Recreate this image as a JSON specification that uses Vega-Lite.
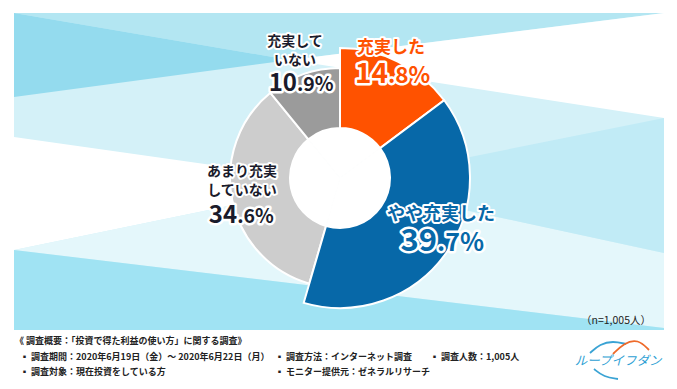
{
  "$schema": "https://vega.github.io/schema/vega-lite/v6.json",
  "width": 674,
  "height": 356,
  "autosize": {"type": "none"},
  "padding": {"left": 3, "top": 0, "right": 0, "bottom": 33},
  "background": "white",
  "config": {"view": {"stroke": null}, "font": "Noto Sans CJK JP", "text": {"font": "Noto Sans CJK JP", "fontWeight": "bold"}},
  "datasets": {
    "box": [
      {"px": 14, "top": 13, "bottom": 330},
      {"px": 664, "top": 13, "bottom": 330}
    ],
    "bg": [
      {"region": "top", "px": 14, "top": 13, "bottom": 13},
      {"region": "top", "px": 290, "top": 13, "bottom": 60},
      {"region": "top", "px": 664, "top": 13, "bottom": 13},
      {"region": "dark", "px": 14, "top": 13, "bottom": 97},
      {"region": "dark", "px": 290, "top": 60, "bottom": 60},
      {"region": "whiteA", "px": 290, "top": 60, "bottom": 60},
      {"region": "whiteA", "px": 664, "top": 13, "bottom": 118},
      {"region": "whiteB", "px": 14, "top": 137, "bottom": 250},
      {"region": "whiteB", "px": 340, "top": 183, "bottom": 183},
      {"region": "pale", "px": 14, "top": 250, "bottom": 250},
      {"region": "pale", "px": 340, "top": 183, "bottom": 289},
      {"region": "pale", "px": 664, "top": 253, "bottom": 328},
      {"region": "mid", "px": 340, "top": 183, "bottom": 183},
      {"region": "mid", "px": 664, "top": 118, "bottom": 253},
      {"region": "deep", "px": 14, "top": 250, "bottom": 330},
      {"region": "deep", "px": 664, "top": 328, "bottom": 330}
    ],
    "donut": [
      {"category": "充実した", "label": "充実した", "share": 0.148, "whole": "14", "frac": ".8%", "rank": 1},
      {"category": "やや充実した", "label": "やや充実した", "share": 0.397, "whole": "39", "frac": ".7%", "rank": 2},
      {"category": "あまり充実していない", "label": "あまり充実\nしていない", "share": 0.346, "whole": "34", "frac": ".6%", "rank": 3},
      {"category": "充実していない", "label": "充実して\nいない", "share": 0.109, "whole": "10", "frac": ".9%", "rank": 4}
    ],
    "notes": [
      {"text": "《 調査概要：「投資で得た利益の使い方」に関する調査》", "px": 15, "py": 341},
      {"text": "▪ 調査期間：2020年6月19日（金）～ 2020年6月22日（月）", "px": 20, "py": 357},
      {"text": "▪ 調査方法：インターネット調査", "px": 275, "py": 357},
      {"text": "▪ 調査人数：1,005人", "px": 430, "py": 357},
      {"text": "▪ 調査対象：現在投資をしている方", "px": 20, "py": 372},
      {"text": "▪ モニター提供元：ゼネラルリサーチ", "px": 275, "py": 372}
    ],
    "sample": [{"text": "（n=1,005人）", "px": 616, "py": 321}],
    "logoText": [{"text": "ループイフダン", "px": 618, "py": 361}],
    "logo": [
      {"arc": "a", "px": 590, "py": 353}, {"arc": "a", "px": 600, "py": 344}, {"arc": "a", "px": 613, "py": 341}, {"arc": "a", "px": 626, "py": 344},
      {"arc": "b", "px": 613, "py": 354}, {"arc": "b", "px": 624, "py": 343}, {"arc": "b", "px": 638, "py": 339}, {"arc": "b", "px": 649, "py": 350},
      {"arc": "c", "px": 594, "py": 369}, {"arc": "c", "px": 604, "py": 377}, {"arc": "c", "px": 618, "py": 379}
    ]
  },
  "layer": [
    {
      "data": {"name": "box"},
      "mark": {"type": "area", "fill": "#d4f1f8"},
      "encoding": {
        "x": {"field": "px", "type": "quantitative", "scale": {"domain": [3, 677], "nice": false, "zero": false}, "axis": null},
        "y": {"field": "top", "type": "quantitative", "stack": null, "scale": {"domain": [0, 356], "reverse": true, "nice": false, "zero": false}, "axis": null},
        "y2": {"field": "bottom"}
      }
    },
    {
      "data": {"name": "bg"},
      "mark": {"type": "area", "interpolate": "linear"},
      "encoding": {
        "x": {"field": "px", "type": "quantitative", "scale": {"domain": [3, 677], "nice": false, "zero": false}, "axis": null},
        "y": {"field": "top", "type": "quantitative", "stack": null, "scale": {"domain": [0, 356], "reverse": true, "nice": false, "zero": false}, "axis": null},
        "y2": {"field": "bottom"},
        "fill": {"field": "region", "type": "nominal", "legend": null,
          "scale": {"domain": ["top", "dark", "whiteA", "whiteB", "pale", "mid", "deep"],
                    "range": ["#b3e6f2", "#94dbee", "#ffffff", "#ffffff", "#e4f7fb", "#c1ebf6", "#a0e3f3"]}}
      }
    },
    {
      "data": {"name": "donut"},
      "encoding": {
        "theta": {"field": "share", "type": "quantitative", "stack": true},
        "order": {"field": "rank", "type": "quantitative"},
        "color": {"field": "category", "type": "nominal", "legend": null,
          "scale": {"domain": ["充実した", "やや充実した", "あまり充実していない", "充実していない"],
                    "range": ["#ff5200", "#0768a8", "#cdcdcd", "#9b9b9b"]}}
      },
      "layer": [
        {"mark": {"type": "arc", "innerRadius": 0, "outerRadius": 51, "stroke": "white", "strokeWidth": 1}, "encoding": {"color": {"value": "white"}}},
        {"mark": {"type": "arc", "innerRadius": 50, "outerRadius": 110, "stroke": "white", "strokeWidth": 2}},
        {"mark": {"type": "arc", "innerRadius": 50, "outerRadius": 130, "stroke": "white", "strokeWidth": 2},
         "encoding": {"opacity": {"condition": {"test": "datum.rank <= 2", "value": 1}, "value": 0}}},

        {"mark": {"type": "text", "radius": 140, "thetaOffset": -0.093, "fontSize": 17, "align": "center", "baseline": "middle", "stroke": "white", "strokeWidth": 4, "strokeJoin": "round"},
         "encoding": {"text": {"condition": {"test": "datum.rank === 1", "field": "label"}, "value": ""}, "color": {"value": "white"}}},
        {"mark": {"type": "text", "radius": 140, "thetaOffset": -0.093, "fontSize": 17, "align": "center", "baseline": "middle"},
         "encoding": {"text": {"condition": {"test": "datum.rank === 1", "field": "label"}, "value": ""}, "color": {"value": "#ff5200"}}},
        {"mark": {"type": "text", "radius": 106.4, "thetaOffset": 0.003, "fontSize": 28, "align": "right", "baseline": "alphabetic", "stroke": "white", "strokeWidth": 5, "strokeJoin": "round"},
         "encoding": {"text": {"condition": {"test": "datum.rank === 1", "field": "whole"}, "value": ""}, "color": {"value": "white"}}},
        {"mark": {"type": "text", "radius": 106.4, "thetaOffset": 0.003, "fontSize": 28, "align": "right", "baseline": "alphabetic"},
         "encoding": {"text": {"condition": {"test": "datum.rank === 1", "field": "whole"}, "value": ""}, "color": {"value": "#ff5200"}}},
        {"mark": {"type": "text", "radius": 106.4, "thetaOffset": 0.003, "fontSize": 22.5, "align": "left", "baseline": "alphabetic", "stroke": "white", "strokeWidth": 5, "strokeJoin": "round"},
         "encoding": {"text": {"condition": {"test": "datum.rank === 1", "field": "frac"}, "value": ""}, "color": {"value": "white"}}},
        {"mark": {"type": "text", "radius": 106.4, "thetaOffset": 0.003, "fontSize": 22.5, "align": "left", "baseline": "alphabetic"},
         "encoding": {"text": {"condition": {"test": "datum.rank === 1", "field": "frac"}, "value": ""}, "color": {"value": "#ff5200"}}},

        {"mark": {"type": "text", "radius": 107.4, "thetaOffset": -0.2595, "fontSize": 18, "align": "center", "baseline": "middle", "stroke": "white", "strokeWidth": 4, "strokeJoin": "round"},
         "encoding": {"text": {"condition": {"test": "datum.rank === 2", "field": "label"}, "value": ""}, "color": {"value": "white"}}},
        {"mark": {"type": "text", "radius": 107.4, "thetaOffset": -0.2595, "fontSize": 18, "align": "center", "baseline": "middle"},
         "encoding": {"text": {"condition": {"test": "datum.rank === 2", "field": "label"}, "value": ""}, "color": {"value": "#0768a8"}}},
        {"mark": {"type": "text", "radius": 121.4, "thetaOffset": 0.0387, "fontSize": 31, "align": "right", "baseline": "alphabetic", "stroke": "white", "strokeWidth": 5, "strokeJoin": "round"},
         "encoding": {"text": {"condition": {"test": "datum.rank === 2", "field": "whole"}, "value": ""}, "color": {"value": "white"}}},
        {"mark": {"type": "text", "radius": 121.4, "thetaOffset": 0.0387, "fontSize": 31, "align": "right", "baseline": "alphabetic"},
         "encoding": {"text": {"condition": {"test": "datum.rank === 2", "field": "whole"}, "value": ""}, "color": {"value": "#0768a8"}}},
        {"mark": {"type": "text", "radius": 121.4, "thetaOffset": 0.0387, "fontSize": 25, "align": "left", "baseline": "alphabetic", "stroke": "white", "strokeWidth": 5, "strokeJoin": "round"},
         "encoding": {"text": {"condition": {"test": "datum.rank === 2", "field": "frac"}, "value": ""}, "color": {"value": "white"}}},
        {"mark": {"type": "text", "radius": 121.4, "thetaOffset": 0.0387, "fontSize": 25, "align": "left", "baseline": "alphabetic"},
         "encoding": {"text": {"condition": {"test": "datum.rank === 2", "field": "frac"}, "value": ""}, "color": {"value": "#0768a8"}}},

        {"mark": {"type": "text", "radius": 98.2, "thetaOffset": 0.259, "fontSize": 14, "lineBreak": "\n", "lineHeight": 19, "align": "center", "baseline": "middle", "stroke": "white", "strokeWidth": 4, "strokeJoin": "round"},
         "encoding": {"text": {"condition": {"test": "datum.rank === 3", "field": "label"}, "value": ""}, "color": {"value": "white"}}},
        {"mark": {"type": "text", "radius": 98.2, "thetaOffset": 0.259, "fontSize": 14, "lineBreak": "\n", "lineHeight": 19, "align": "center", "baseline": "middle"},
         "encoding": {"text": {"condition": {"test": "datum.rank === 3", "field": "label"}, "value": ""}, "color": {"value": "#1a1b2b"}}},
        {"mark": {"type": "text", "radius": 112.4, "thetaOffset": -0.214, "fontSize": 24, "align": "right", "baseline": "alphabetic", "stroke": "white", "strokeWidth": 5, "strokeJoin": "round"},
         "encoding": {"text": {"condition": {"test": "datum.rank === 3", "field": "whole"}, "value": ""}, "color": {"value": "white"}}},
        {"mark": {"type": "text", "radius": 112.4, "thetaOffset": -0.214, "fontSize": 24, "align": "right", "baseline": "alphabetic"},
         "encoding": {"text": {"condition": {"test": "datum.rank === 3", "field": "whole"}, "value": ""}, "color": {"value": "#1a1b2b"}}},
        {"mark": {"type": "text", "radius": 112.4, "thetaOffset": -0.214, "fontSize": 19.5, "align": "left", "baseline": "alphabetic", "stroke": "white", "strokeWidth": 5, "strokeJoin": "round"},
         "encoding": {"text": {"condition": {"test": "datum.rank === 3", "field": "frac"}, "value": ""}, "color": {"value": "white"}}},
        {"mark": {"type": "text", "radius": 112.4, "thetaOffset": -0.214, "fontSize": 19.5, "align": "left", "baseline": "alphabetic"},
         "encoding": {"text": {"condition": {"test": "datum.rank === 3", "field": "frac"}, "value": ""}, "color": {"value": "#1a1b2b"}}},

        {"mark": {"type": "text", "radius": 143.7, "thetaOffset": 0.024, "fontSize": 14, "lineBreak": "\n", "lineHeight": 19, "align": "center", "baseline": "middle", "stroke": "white", "strokeWidth": 4, "strokeJoin": "round"},
         "encoding": {"text": {"condition": {"test": "datum.rank === 4", "field": "label"}, "value": ""}, "color": {"value": "white"}}},
        {"mark": {"type": "text", "radius": 143.7, "thetaOffset": 0.024, "fontSize": 14, "lineBreak": "\n", "lineHeight": 19, "align": "center", "baseline": "middle"},
         "encoding": {"text": {"condition": {"test": "datum.rank === 4", "field": "label"}, "value": ""}, "color": {"value": "#1a1b2b"}}},
        {"mark": {"type": "text", "radius": 97.0, "thetaOffset": -0.1166, "fontSize": 24, "align": "right", "baseline": "alphabetic", "stroke": "white", "strokeWidth": 5, "strokeJoin": "round"},
         "encoding": {"text": {"condition": {"test": "datum.rank === 4", "field": "whole"}, "value": ""}, "color": {"value": "white"}}},
        {"mark": {"type": "text", "radius": 97.0, "thetaOffset": -0.1166, "fontSize": 24, "align": "right", "baseline": "alphabetic"},
         "encoding": {"text": {"condition": {"test": "datum.rank === 4", "field": "whole"}, "value": ""}, "color": {"value": "#1a1b2b"}}},
        {"mark": {"type": "text", "radius": 97.0, "thetaOffset": -0.1166, "fontSize": 19.5, "align": "left", "baseline": "alphabetic", "stroke": "white", "strokeWidth": 5, "strokeJoin": "round"},
         "encoding": {"text": {"condition": {"test": "datum.rank === 4", "field": "frac"}, "value": ""}, "color": {"value": "white"}}},
        {"mark": {"type": "text", "radius": 97.0, "thetaOffset": -0.1166, "fontSize": 19.5, "align": "left", "baseline": "alphabetic"},
         "encoding": {"text": {"condition": {"test": "datum.rank === 4", "field": "frac"}, "value": ""}, "color": {"value": "#1a1b2b"}}}
      ]
    },
    {
      "data": {"name": "notes"},
      "mark": {"type": "text", "align": "left", "baseline": "middle", "fontSize": 9, "fontWeight": "bold", "color": "#222222"},
      "encoding": {
        "x": {"field": "px", "type": "quantitative", "scale": {"domain": [3, 677], "nice": false, "zero": false}, "axis": null},
        "y": {"field": "py", "type": "quantitative", "scale": {"domain": [0, 356], "reverse": true, "nice": false, "zero": false}, "axis": null},
        "text": {"field": "text"}
      }
    },
    {
      "data": {"name": "sample"},
      "mark": {"type": "text", "align": "center", "baseline": "middle", "fontSize": 10.5, "fontWeight": "normal", "color": "#222222"},
      "encoding": {
        "x": {"field": "px", "type": "quantitative", "scale": {"domain": [3, 677], "nice": false, "zero": false}, "axis": null},
        "y": {"field": "py", "type": "quantitative", "scale": {"domain": [0, 356], "reverse": true, "nice": false, "zero": false}, "axis": null},
        "text": {"field": "text"}
      }
    },
    {
      "data": {"name": "logo"},
      "mark": {"type": "line", "interpolate": "basis", "strokeWidth": 1.8},
      "encoding": {
        "x": {"field": "px", "type": "quantitative", "scale": {"domain": [3, 677], "nice": false, "zero": false}, "axis": null},
        "y": {"field": "py", "type": "quantitative", "scale": {"domain": [0, 356], "reverse": true, "nice": false, "zero": false}, "axis": null},
        "stroke": {"field": "arc", "type": "nominal", "legend": null, "scale": {"domain": ["a", "b", "c"], "range": ["#3aa3d4", "#ee6a2a", "#3aa3d4"]}}
      }
    },
    {
      "data": {"name": "logoText"},
      "mark": {"type": "text", "align": "center", "baseline": "middle", "fontSize": 12.5, "fontWeight": "normal", "fontStyle": "italic", "color": "#2e9fd4"},
      "encoding": {
        "x": {"field": "px", "type": "quantitative", "scale": {"domain": [3, 677], "nice": false, "zero": false}, "axis": null},
        "y": {"field": "py", "type": "quantitative", "scale": {"domain": [0, 356], "reverse": true, "nice": false, "zero": false}, "axis": null},
        "text": {"field": "text"}
      }
    }
  ]
}
